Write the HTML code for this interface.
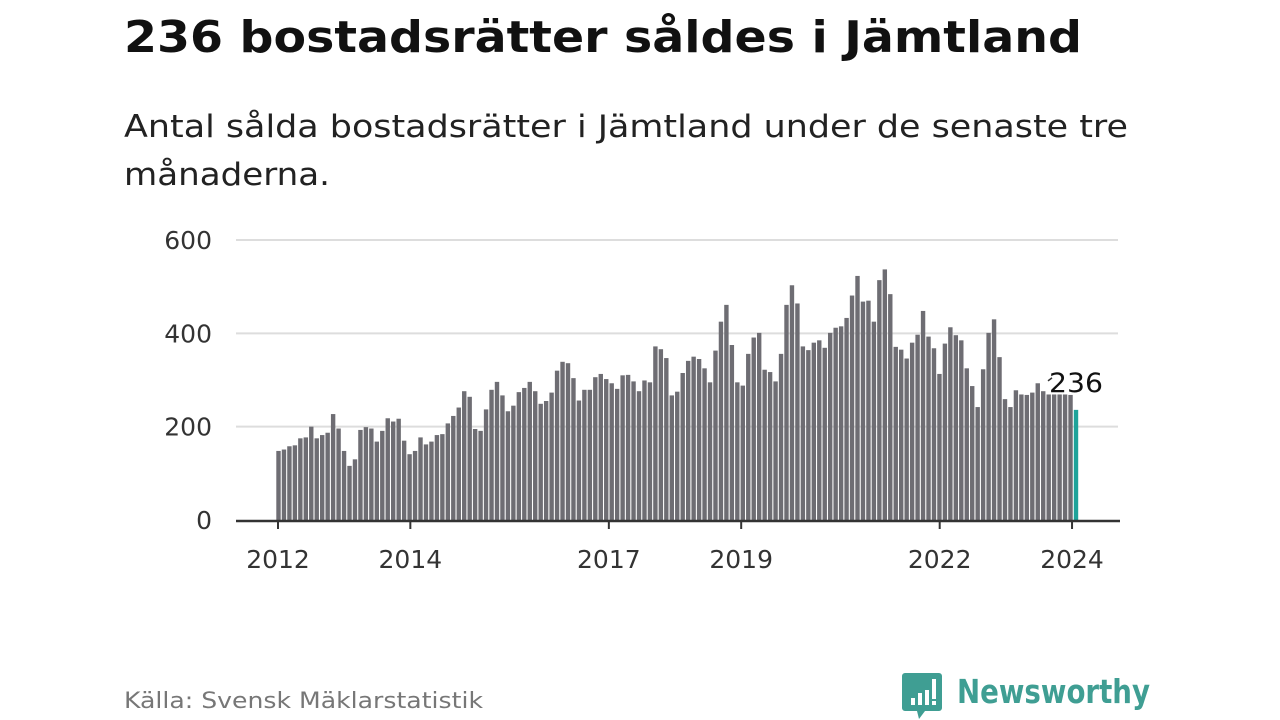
<!DOCTYPE html>
<html><head><meta charset="utf-8"><style>
html,body{margin:0;padding:0;background:#fff;width:1280px;height:720px;overflow:hidden}
svg{display:block;font-family:"DejaVu Sans","Liberation Sans",sans-serif}
</style></head><body>
<svg id="c" width="1280" height="720">
<text x="124" y="52" font-size="44" font-weight="bold" fill="#111" textLength="958" lengthAdjust="spacingAndGlyphs">236 bostadsrätter såldes i Jämtland</text>
<text x="124" y="137" font-size="31" fill="#222" textLength="1004" lengthAdjust="spacingAndGlyphs">Antal sålda bostadsrätter i Jämtland under de senaste tre</text>
<text x="124" y="185" font-size="31" fill="#222" textLength="206" lengthAdjust="spacingAndGlyphs">månaderna.</text>
<g id="grid"></g><g id="bars"></g><g id="axis"></g>
<text x="124" y="708" font-size="22" fill="#777" textLength="359" lengthAdjust="spacingAndGlyphs">Källa: Svensk Mäklarstatistik</text>
<g>
<path d="M905 673 h34 a3 3 0 0 1 3 3 v32 a3 3 0 0 1 -3 3 h-14 l-6 8 l-2 -8 h-12 a3 3 0 0 1 -3 -3 v-32 a3 3 0 0 1 3 -3z" fill="#3f9e93"/>
<rect x="911" y="698" width="4" height="7" fill="#fff"/><rect x="918" y="693" width="4" height="12" fill="#fff"/><rect x="925" y="690" width="4" height="15" fill="#fff"/><rect x="932" y="679" width="4" height="20" fill="#fff"/><rect x="932" y="701" width="4" height="4" fill="#fff"/>
<text x="957" y="703" font-size="33" font-weight="bold" fill="#3f9e93" textLength="193" lengthAdjust="spacingAndGlyphs">Newsworthy</text>
</g>
</svg>
<script>
const values=[148,151,158,160,175,177,200,175,182,187,227,196,148,116,130,193,199,196,168,191,218,211,217,170,141,148,177,162,168,182,184,207,223,241,276,264,195,191,237,279,296,267,233,245,274,283,296,276,249,255,273,320,339,336,304,256,279,279,306,313,302,293,281,310,311,297,276,299,295,372,366,347,267,275,315,341,350,345,325,295,363,425,461,375,295,288,356,391,401,322,317,297,356,461,503,464,372,364,380,385,369,401,412,415,433,481,523,468,470,425,514,537,484,371,365,346,380,397,448,393,368,313,378,413,396,385,325,287,242,323,401,430,349,259,242,278,269,268,273,293,276,269,269,269,269,268,236];
const yTicks=[0,200,400,600];
const xTickYears=[2012,2014,2017,2019,2022,2024];
const lastLabel="236";
const NS="http://www.w3.org/2000/svg";
const y0=520,pxPer=280/600;
const y=v=>y0-v*pxPer;
const firstX=278.5,lastX=1076;
const step=(lastX-firstX)/(values.length-1);
const xb=i=>firstX+i*step;
const xYear=yr=>278+(yr-2012)*66.17;
function mk(t,a,p){const e=document.createElementNS(NS,t);for(const k in a)e.setAttribute(k,a[k]);p.appendChild(e);return e;}
const grid=document.getElementById('grid'),bars=document.getElementById('bars'),axis=document.getElementById('axis');
yTicks.forEach(v=>{
 if(v>0){const l=mk('line',{x1:236,x2:1118,y1:y(v),y2:y(v),stroke:'#ddd','stroke-width':2},grid);
 
 }
 const t=mk('text',{x:212,y:y(v)+9,'text-anchor':'end','font-size':25,fill:'#333'},grid);t.textContent=v;
 
 
});
values.forEach((v,i)=>{
 const last=i===values.length-1;
 const r=mk('rect',{x:xb(i)-2.2,y:y(v),width:4.4,height:v*pxPer,fill:last?'#1fa39a':'#6e6d73'},bars);
 
 
});
const bl=mk('line',{x1:236,x2:1120,y1:y0+1,y2:y0+1,stroke:'#333','stroke-width':2.5},axis);


xTickYears.forEach(yr=>{
 const tk=mk('line',{x1:xYear(yr),x2:xYear(yr),y1:y0,y2:y0+9,stroke:'#333','stroke-width':2},axis);
 
 
 const t=mk('text',{x:xYear(yr),y:568,'text-anchor':'middle','font-size':25,fill:'#333'},axis);t.textContent=yr;
 
 
});
const li=values.length-1;
const c=mk('line',{x1:xb(li)-28,y1:y(values[li])-29,x2:xb(li)-24,y2:y(values[li])-32,stroke:'#333','stroke-width':1.5},axis);


const lt=mk('text',{x:xb(li)-27,y:y(values[li])-18,'font-size':27,fill:'#111','textLength':54,'lengthAdjust':'spacingAndGlyphs'},axis);lt.textContent=lastLabel;


</script>
</body></html>
